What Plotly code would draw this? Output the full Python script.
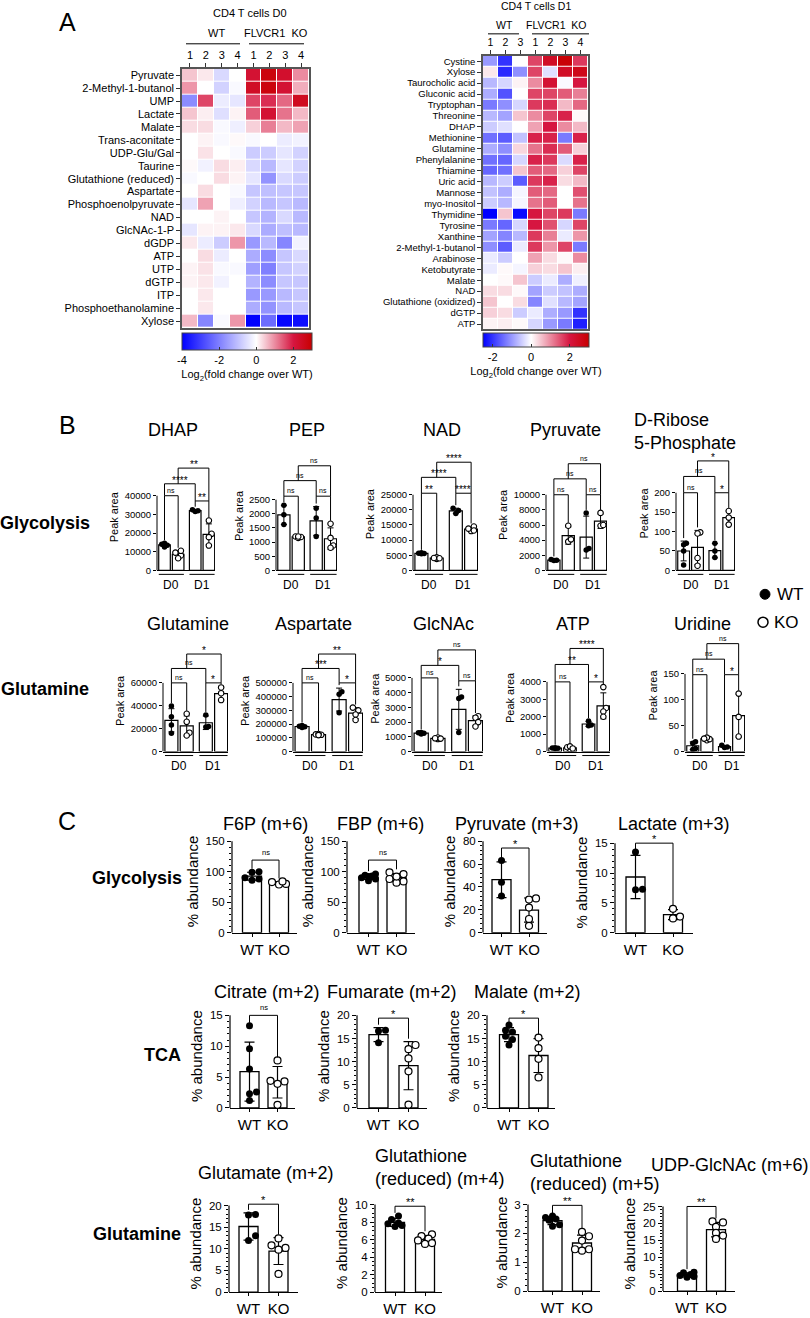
import statistics
import plotly.graph_objects as go

W, H = 810, 1318
FONT = "Liberation Sans, Arial, sans-serif"

# ---------------- Panel A: log2 fold change heatmaps ----------------
d0_rows = ["Pyruvate", "2-Methyl-1-butanol", "UMP", "Lactate", "Malate", "Trans-aconitate",
           "UDP-Glu/Gal", "Taurine", "Glutathione (reduced)", "Aspartate", "Phosphoenolpyruvate",
           "NAD", "GlcNAc-1-P", "dGDP", "ATP", "UTP", "dGTP", "ITP", "Phosphoethanolamine", "Xylose"]
d0_cols = ["1", "2", "3", "4", "1", "2", "3", "4"]
d0_vals = [
    [0.5, 0.2, -0.6, 0.0, 2.2, 2.8, 2.3, 1.0],
    [0.9, 0.0, -0.7, -0.1, 2.4, 2.8, 2.2, 0.7],
    [-1.8, 1.6, -0.3, -0.4, 1.6, 1.8, 1.3, 2.5],
    [0.5, 0.15, -0.5, 0.1, 1.4, 2.2, 1.2, 0.6],
    [0.3, 0.3, -0.1, -0.25, 0.4, 1.1, 0.6, 0.8],
    [0.0, 0.1, -0.1, 0.05, -0.1, 0.0, -0.3, -0.2],
    [0.0, 0.25, 0.0, -0.1, -0.8, -0.8, -0.4, -0.7],
    [0.05, -0.2, 0.3, 0.15, -0.6, -1.1, -0.4, -0.7],
    [-0.1, 0.0, 0.3, 0.1, -0.4, -1.7, -0.6, -0.8],
    [0.0, 0.3, 0.0, -0.1, -0.9, -1.0, -0.9, -0.9],
    [-0.4, 0.8, 0.0, -0.25, -0.7, -1.1, -0.9, -1.1],
    [0.0, 0.0, 0.1, 0.0, -0.9, -1.2, -0.6, -1.1],
    [-0.4, 0.1, 0.1, 0.2, -0.6, -1.3, -1.0, -1.1],
    [0.2, -0.3, -0.8, 0.9, -1.6, -1.1, -1.9, -0.2],
    [0.0, 0.3, -0.3, 0.0, -1.3, -1.8, -0.9, -0.6],
    [0.1, 0.25, -0.1, -0.1, -1.5, -2.0, -0.9, -0.7],
    [0.1, 0.2, -0.2, 0.0, -1.2, -1.8, -0.9, -0.9],
    [0.0, 0.2, 0.0, 0.0, -1.6, -1.6, -1.1, -0.9],
    [0.0, 0.2, 0.0, 0.0, -1.3, -1.7, -1.1, -0.9],
    [0.6, -1.9, -0.1, 0.9, -4.0, -2.3, -3.9, -3.8],
]

d1_rows = ["Cystine", "Xylose", "Taurocholic acid", "Gluconic acid", "Tryptophan", "Threonine", "DHAP",
           "Methionine", "Glutamine", "Phenylalanine", "Thiamine", "Uric acid", "Mannose", "myo-Inositol",
           "Thymidine", "Tyrosine", "Xanthine", "2-Methyl-1-butanol", "Arabinose", "Ketobutyrate",
           "Malate", "NAD", "Glutathione (oxidized)", "dGTP", "ATP"]
d1_cols = ["1", "2", "3", "1", "2", "3", "4"]
d1_vals = [
    [-1.0, -2.0, 0.0, 1.6, 2.4, 2.9, 1.7],
    [0.2, -2.1, -1.1, 1.6, -0.3, 2.4, 2.6],
    [-0.7, -0.4, 0.1, 1.0, 2.2, -0.05, 2.0],
    [-0.8, -1.7, 0.0, 1.6, 1.6, 1.4, 1.1],
    [-1.3, -1.1, -0.4, 1.7, 1.8, 0.6, 1.3],
    [-0.7, -0.9, 0.5, 1.0, 1.6, 1.9, 0.05],
    [-0.5, -0.3, 0.0, 0.8, 2.0, 1.0, 0.6],
    [-1.4, -1.6, -0.6, 1.9, 1.9, -1.3, 1.9],
    [-0.8, -1.1, 0.35, 1.2, 1.8, 1.4, 0.4],
    [-1.4, -1.5, -0.4, 1.9, 1.7, -0.35, 1.9],
    [-1.5, -1.4, 0.5, 1.4, 1.3, 0.4, 1.6],
    [-0.7, -0.5, -1.6, 1.7, 1.9, 0.3, 0.6],
    [-0.6, -0.8, -0.1, 1.4, 1.3, 0.0, 1.5],
    [-0.5, -0.7, -0.1, 1.2, 1.4, 0.0, 1.2],
    [-2.5, 0.5, -2.4, 2.0, 1.6, 1.7, -1.3],
    [-1.3, -1.5, -0.4, 2.0, 1.5, -0.4, 1.6],
    [-0.9, -1.2, -0.7, 1.7, 1.1, -0.2, 0.9],
    [-1.1, -1.6, -0.2, 1.7, 0.9, 1.6, -1.3],
    [-0.2, -0.5, 0.0, 0.8, 0.3, 0.05, 1.0],
    [-0.2, 0.05, -0.1, 0.4, 0.3, 0.5, 0.15],
    [0.0, 0.05, 0.5, -0.5, -0.2, -0.8, -0.15],
    [0.3, 0.3, 0.05, -0.9, -0.5, -0.6, -0.8],
    [0.5, 0.0, 0.3, -1.2, -0.3, -0.7, -0.9],
    [0.4, 0.3, -0.5, -0.2, -0.8, -1.0, -2.0],
    [0.1, 0.15, 0.05, -0.4, -1.0, -1.3, -2.2],
]

# ---------------- Panel B: peak areas (WT/KO at D0 and D1) ----------------
b_names = ["DHAP", "PEP", "NAD", "Pyruvate", "D-Ribose<br>5-Phosphate",
           "Glutamine", "Aspartate", "GlcNAc", "ATP", "Uridine"]
b_wt_d0 = [
    [14500, 14000, 12500, 13500],
    [2300, 1970, 1620],
    [5500, 5800, 5600, 5700],
    [1350, 1450, 1300],
    [70, 66, 50, 14],
    [39700, 30400, 23200, 16000],
    [180000, 185000, 175000, 190000],
    [1200, 1300, 1250, 1280],
    [180, 220, 200, 190],
    [19, 16, 6, 4],
]
b_ko_d0 = [
    [8000, 9500, 6500, 10500],
    [1200, 1150, 1180, 1200],
    [3800, 4300, 4000, 4100],
    [5900, 3800, 4100],
    [98, 95, 32, 12],
    [33000, 26000, 16500, 14000],
    [122000, 125000, 128000, 120000],
    [850, 950, 900, 880],
    [150, 250, 300, 180],
    [22, 24, 27, 25],
]
b_wt_d1 = [
    [31500, 32000, 32500],
    [2200, 1850, 1200],
    [20500, 19800, 18800],
    [7600, 2900, 2700],
    [70, 50, 33],
    [32000, 21500, 22000],
    [435000, 418000, 283000],
    [3700, 3600, 1300],
    [1750, 1520, 1480],
    [12, 9, 8],
]
b_ko_d1 = [
    [26700, 19600, 17800, 13300],
    [1650, 880, 800, 1150],
    [13000, 14500, 13800, 13200],
    [7600, 5900, 6000],
    [153, 136, 118],
    [56000, 51000, 45000],
    [320000, 300000, 270000, 230000],
    [2400, 2300, 2000, 1700],
    [3700, 2500, 2300, 2000],
    [112, 67, 29],
]
b_ymax = [40000, 2500, 25000, 10000, 200, 60000, 500000, 5000, 4000, 150]
b_dtick = [10000, 500, 5000, 2000, 50, 20000, 100000, 1000, 1000, 50]
# significance: D0 WT vs KO, D1 WT vs KO, WT D0 vs D1, KO D0 vs D1
b_sig = [
    ["ns", "**", "****", "**"],
    ["ns", "ns", "ns", "ns"],
    ["**", "****", "****", "****"],
    ["ns", "ns", "ns", "ns"],
    ["ns", "*", "ns", "*"],
    ["ns", "*", "ns", "*"],
    ["ns", "*", "***", "**"],
    ["ns", "ns", "*", "ns"],
    ["ns", "*", "**", "****"],
    ["ns", "*", "ns", "ns"],
]

# ---------------- Panel C: isotopologue % abundance ----------------
c_names = ["F6P (m+6)", "FBP (m+6)", "Pyruvate (m+3)", "Lactate (m+3)", "Citrate (m+2)",
           "Fumarate (m+2)", "Malate (m+2)", "Glutamate (m+2)", "Glutathione<br>(reduced) (m+4)",
           "Glutathione<br>(reduced) (m+5)", "UDP-GlcNAc (m+6)"]
c_wt = [
    [100, 99, 88, 86, 90],
    [96, 94, 88, 92, 85, 90, 93],
    [63, 44, 32],
    [13.5, 7.2, 7.3],
    [13.3, 9.6, 6.3, 2.6, 2.3, 1.2],
    [16.8, 16.6, 14.1],
    [17.9, 16.8, 16.4, 15.5, 14.8, 13.6],
    [17.8, 17.9, 13.0, 11.9],
    [8.7, 8.3, 7.9, 7.6, 7.5, 7.8],
    [2.6, 2.55, 2.5, 2.45, 2.3, 2.25],
    [5.6, 5.4, 4.9, 4.6, 4.3, 4.1],
]
c_ko = [
    [83, 80, 79, 84],
    [99, 96, 84, 88, 82, 92],
    [30, 29, 22, 12, 6],
    [4.0, 2.4, 2.7],
    [7.7, 4.3, 4.4, 3.9, 0.5],
    [13.6, 12.7, 10.7, 7.9, 0.7],
    [15.2, 12.9, 10.6, 6.6],
    [12.4, 10.8, 10.2, 9.8, 4.2],
    [6.6, 6.4, 6.1, 5.6, 5.5, 5.9],
    [2.05, 1.9, 1.75, 1.45, 1.4, 1.45],
    [20.6, 20.3, 19.0, 17.2, 16.4, 15.4],
]
c_ymax = [150, 150, 80, 15, 15, 20, 20, 20, 10, 3, 25]
c_dtick = [50, 50, 20, 5, 5, 5, 5, 5, 2, 1, 5]
c_sig = ["ns", "ns", "*", "*", "ns", "*", "*", "*", "**", "**", "**"]


def xd(px):
    return px / W


def yd(py):
    return 1 - py / H


fig = go.Figure()
axes_layout = {}
shapes = []
annos = []
counter = [0]


def new_axes():
    counter[0] += 1
    k = counter[0]
    return k, ("x" if k == 1 else f"x{k}"), ("y" if k == 1 else f"y{k}")


def set_axes(k, xa, ya):
    axes_layout["xaxis" if k == 1 else f"xaxis{k}"] = xa
    axes_layout["yaxis" if k == 1 else f"yaxis{k}"] = ya


def text(x, y, s, size, xref="paper", yref="paper", xanchor="center", yanchor="middle", **kw):
    annos.append(dict(x=x, y=y, xref=xref, yref=yref, text=s, showarrow=False, xanchor=xanchor,
                      yanchor=yanchor, font=dict(size=size, color="black", family=FONT), **kw))


def hline_px(x0, x1, y, width=1):
    shapes.append(dict(type="line", xref="paper", yref="paper", x0=xd(x0), x1=xd(x1),
                       y0=yd(y), y1=yd(y), line=dict(color="black", width=width)))


def mean_sd(g):
    m = sum(g) / len(g)
    return m, (statistics.stdev(g) if len(g) > 1 else 0.0)


def swarm(vals, ppu_y, ppu_x, diam, limit):
    # spread points sideways when they would overlap (in pixel space)
    order = sorted(range(len(vals)), key=lambda i: vals[i])
    step = diam * 0.5
    cands = [0.0]
    j = 1
    while j * step <= limit:
        cands += [j * step, -j * step]
        j += 1
    placed, offs = [], [0.0] * len(vals)
    for i in order:
        y = vals[i] * ppu_y
        best, bestd = 0.0, -1.0
        for c in cands:
            d = min((((c - px) ** 2 + (y - py) ** 2) ** 0.5 for px, py in placed), default=1e9)
            if d >= diam * 0.85:
                best = c
                break
            if d > bestd:
                best, bestd = c, d
        placed.append((best, y))
        offs[i] = best / ppu_x
    return offs


def cscale(zmin, zmax):
    f = lambda v: (v - zmin) / (zmax - zmin)
    return [[0, "rgb(0,0,255)"], [f(0), "rgb(255,255,255)"], [f(2), "rgb(214,22,64)"],
            [1, "rgb(200,0,0)"]]


# ---------------- heatmaps ----------------
def heatmap(rows, cols, vals, zmin, zmax, box, cb, rowfont, colfont, cbticks):
    k, xs, ys = new_axes()
    x0, x1, y0, y1 = box
    fig.add_trace(go.Heatmap(
        z=vals, x=list(range(len(cols))), y=list(range(len(rows))), zmin=zmin, zmax=zmax,
        colorscale=cscale(zmin, zmax), xgap=1, ygap=1, xaxis=xs, yaxis=ys,
        colorbar=dict(orientation="h", x=xd(cb[0]), xanchor="center", y=yd(cb[1]), yanchor="top",
                      len=cb[2], lenmode="pixels", thickness=cb[3], thicknessmode="pixels",
                      xpad=0, ypad=0, outlinewidth=1, outlinecolor="#444",
                      tickvals=cbticks, ticktext=[str(t) for t in cbticks],
                      ticks="inside", ticklen=3, tickcolor="#333",
                      tickfont=dict(size=11, family=FONT),
                      title=dict(text="Log<sub>2</sub>(fold change over WT)", side="bottom",
                                 font=dict(size=11, family=FONT)))))
    set_axes(k,
             dict(domain=[xd(x0), xd(x1)], anchor=ys, side="top", range=[-0.5, len(cols) - 0.5],
                  tickmode="array", tickvals=list(range(len(cols))), ticktext=cols, ticks="outside",
                  ticklen=4, tickcolor="#333", showline=True, mirror=True, linecolor="#555",
                  linewidth=1.5, showgrid=False, zeroline=False, tickfont=dict(size=colfont)),
             dict(domain=[yd(y1), yd(y0)], anchor=xs, range=[len(rows) - 0.5, -0.5],
                  tickmode="array", tickvals=list(range(len(rows))), ticktext=rows, ticks="outside",
                  ticklen=4, tickcolor="#333", showline=True, mirror=True, linecolor="#555",
                  linewidth=1.5, showgrid=False, zeroline=False, tickfont=dict(size=rowfont)))


heatmap(d0_rows, d0_cols, d0_vals, -4, 3, (182, 309, 69, 329), (247, 335, 130, 17), 11, 11,
        [-4, -2, 0, 2])
heatmap(d1_rows, d1_cols, d1_vals, -2.5, 3, (483, 588, 56, 331), (536, 335, 106, 14), 9.5, 10.5,
        [-2, 0, 2])

text(xd(250), yd(13), "CD4 T cells D0", 11)
text(xd(216), yd(33), "WT", 11)
text(xd(276), yd(33), "FLVCR1  KO", 11)
hline_px(186, 240, 44)
hline_px(249, 304, 44)
text(xd(536), yd(6), "CD4 T cells D1", 10.5)
text(xd(504), yd(25), "WT", 10.5)
text(xd(556), yd(25), "FLVCR1  KO", 10.5)
hline_px(488, 519, 34)
hline_px(532, 589, 34)

# ---------------- Panel B ----------------
POS_B = [0, 1, 2.25, 3.25]
PAIRS_B = [(0, 1), (2, 3), (0, 2), (1, 3)]
# axis px, end px, zero px, ymax px, bracket levels (fraction of ymax)
b_layout = [
    (157, 215, 573, 498, [1.0, 0.93, 1.16, 1.37]),
    (276, 337, 573, 502, [1.05, 1.05, 1.27, 1.48]),
    (413, 478, 573, 497, [1.02, 1.02, 1.23, 1.43]),
    (546, 607, 573, 497, [1.0, 1.0, 1.21, 1.41]),
    (676, 735, 573, 495, [1.0, 1.0, 1.21, 1.41]),
    (163, 228, 755, 686, [1.0, 1.0, 1.21, 1.42]),
    (293, 363, 755, 686, [1.0, 1.0, 1.21, 1.42]),
    (412, 483, 755, 681, [1.0, 0.96, 1.17, 1.38]),
    (547, 610, 755, 685, [1.0, 1.0, 1.25, 1.48]),
    (685, 745, 755, 677, [0.99, 0.99, 1.19, 1.39]),
]
b_title_pos = [(173, 432), (307, 432), (442, 432), (565, 432), (632, 433),
               (188, 627), (313, 627), (443, 627), (573, 627), (702, 627)]


def bplot(i):
    axis_px, end_px, zero_px, ymax_px, levels = b_layout[i]
    ymax, dtick = b_ymax[i], b_dtick[i]
    k, xs, ys = new_axes()
    groups = [b_wt_d0[i], b_ko_d0[i], b_wt_d1[i], b_ko_d1[i]]
    ms = [mean_sd(g) for g in groups]
    xlo, xhi = -0.55, 3.7
    ppu_x = (end_px - axis_px) / (xhi - xlo)
    ppu_y = (zero_px - ymax_px) / ymax
    top = max(levels) * ymax * 1.04
    top_px = zero_px - top * ppu_y

    fig.add_trace(go.Bar(x=POS_B, y=[m for m, s in ms], width=0.85, xaxis=xs, yaxis=ys,
                         marker=dict(color="white", line=dict(color="black", width=1.2))))
    fig.add_trace(go.Scatter(x=POS_B, y=[m for m, s in ms], mode="markers", xaxis=xs, yaxis=ys,
                             marker=dict(size=1, color="rgba(0,0,0,0)"),
                             error_y=dict(type="data", array=[s for m, s in ms], visible=True,
                                          thickness=1, width=3, color="black")))
    for g, vals in enumerate(groups):
        offs = swarm(vals, ppu_y, ppu_x, 5.5, 0.28 * ppu_x)
        filled = g in (0, 2)
        fig.add_trace(go.Scatter(
            x=[POS_B[g] + o for o in offs], y=vals, mode="markers", xaxis=xs, yaxis=ys,
            marker=dict(size=5.5, color="black" if filled else "white",
                        line=dict(color="black", width=0 if filled else 1.1))))

    set_axes(k,
             dict(domain=[xd(axis_px), xd(end_px)], anchor=ys, range=[xlo, xhi], showline=True,
                  linecolor="black", linewidth=1, showticklabels=False, ticks="", showgrid=False,
                  zeroline=False),
             dict(domain=[yd(zero_px), yd(top_px)], anchor=xs, range=[0, top], tickmode="array",
                  tickvals=[j * dtick for j in range(int(round(ymax / dtick)) + 1)],
                  tickformat="d", ticks="outside", ticklen=3, tickwidth=1, tickcolor="black",
                  showline=False, showgrid=False, zeroline=False, tickfont=dict(size=9.5),
                  title=dict(text="Peak area", font=dict(size=11), standoff=3)))
    shapes.append(dict(type="line", xref=f"{xs} domain", yref=ys, x0=0, x1=0, y0=0, y1=ymax,
                       line=dict(color="black", width=1)))

    # D0 / D1 group lines and labels
    for a, b, lab in [(0, 1, "D0"), (2, 3, "D1")]:
        shapes.append(dict(type="line", xref=xs, yref="paper", x0=POS_B[a] - 0.42,
                           x1=POS_B[b] + 0.42, y0=yd(zero_px + 4), y1=yd(zero_px + 4),
                           line=dict(color="black", width=1)))
        text((POS_B[a] + POS_B[b]) / 2, yd(zero_px + 15), lab, 12, xref=xs)

    # brackets
    gap = 3 / ppu_y
    tops = [max(max(vals), m + s) + gap for vals, (m, s) in zip(groups, ms)]
    for j, (a, b) in enumerate(PAIRS_B):
        lev = levels[j] * ymax
        legs = []
        for g in (a, b):
            cands = [tops[g]]
            for jj, (aa, bb) in enumerate(PAIRS_B):
                if jj != j and levels[jj] < levels[j] and aa <= g <= bb:
                    cands.append(levels[jj] * ymax)
            legs.append(min(max(cands), lev))
        xa, xb = POS_B[a], POS_B[b]
        shapes.append(dict(type="path", xref=xs, yref=ys,
                           path=f"M {xa},{legs[0]} L {xa},{lev} L {xb},{lev} L {xb},{legs[1]}",
                           line=dict(color="black", width=1)))
        sig = b_sig[i][j]
        if sig == "ns":
            text((xa + xb) / 2, lev, sig, 7, xref=xs, yref=ys, yanchor="bottom", yshift=0)
        else:
            text((xa + xb) / 2, lev, sig, 10, xref=xs, yref=ys, yanchor="bottom", yshift=-4)

    tx, ty = b_title_pos[i]
    if "<br>" in b_names[i]:
        text(xd(tx), yd(ty), b_names[i], 18, xanchor="left", align="left")
    else:
        text(xd(tx), yd(ty), b_names[i], 18)


for i in range(len(b_names)):
    bplot(i)

text(xd(45), yd(525), "<b>Glycolysis</b>", 18)
text(xd(45), yd(692), "<b>Glutamine</b>", 18)

# legend
shapes.append(dict(type="circle", xref="paper", yref="paper", x0=xd(760), x1=xd(770),
                   y0=yd(602), y1=yd(592), fillcolor="black", line=dict(color="black", width=1)))
shapes.append(dict(type="circle", xref="paper", yref="paper", x0=xd(758), x1=xd(768),
                   y0=yd(630), y1=yd(620), fillcolor="white", line=dict(color="black", width=1.5)))
text(xd(775), yd(597), "WT", 17, xanchor="left")
text(xd(772), yd(625), "KO", 17, xanchor="left")

# ---------------- Panel C ----------------
# axis px, end px, WT bar centre px, KO bar centre px, zero px, ymax px, bracket level
c_layout = [
    (232, 297, 252, 279, 937, 845, 119),
    (347, 415, 368.5, 396.5, 937, 845, 119),
    (483, 547, 501.5, 529, 937, 845, 74),
    (615, 693, 635.5, 673, 937, 847, 15),
    (230, 295, 249.5, 277.5, 1113, 1020, 15),
    (357, 427, 378.5, 408.5, 1113, 1020, 19.4),
    (487, 555, 509, 538.5, 1113, 1020, 19.4),
    (229, 298, 248.5, 278.5, 1298, 1211, 20.3),
    (375, 442, 395, 425, 1298, 1210, 9.8),
    (528, 600, 552.5, 582, 1297, 1210, 2.97),
    (663, 735, 687, 716, 1297, 1212, 25),
]
c_title_pos = [(265, 828), (380, 828), (517, 828), (674, 828), (267, 997), (392, 997),
               (527, 997), (266, 1178), (373, 1173), (528, 1178), (730, 1170)]


def cplot(i):
    axis_px, end_px, c0, c1, zero_px, ymax_px, level = c_layout[i]
    ymax, dtick = c_ymax[i], c_dtick[i]
    k, xs, ys = new_axes()
    unit = c1 - c0
    xlo, xhi = (axis_px - c0) / unit, (end_px - c0) / unit
    ppu_y = (zero_px - ymax_px) / ymax
    top = ymax * 1.12
    top_px = zero_px - top * ppu_y
    groups = [c_wt[i], c_ko[i]]
    ms = [mean_sd(g) for g in groups]
    bw = 19 / unit

    fig.add_trace(go.Bar(x=[0, 1], y=[m for m, s in ms], width=bw, xaxis=xs, yaxis=ys,
                         marker=dict(color="white", line=dict(color="black", width=1.3))))
    fig.add_trace(go.Scatter(x=[0, 1], y=[m for m, s in ms], mode="markers", xaxis=xs, yaxis=ys,
                             marker=dict(size=1, color="rgba(0,0,0,0)"),
                             error_y=dict(type="data", array=[s for m, s in ms], visible=True,
                                          thickness=1.2, width=5, color="black")))
    for g, vals in enumerate(groups):
        offs = swarm(vals, ppu_y, unit, 7, 8)
        filled = g == 0
        fig.add_trace(go.Scatter(
            x=[g + o for o in offs], y=vals, mode="markers", xaxis=xs, yaxis=ys,
            marker=dict(size=7, color="black" if filled else "white",
                        line=dict(color="black", width=0 if filled else 1.2))))

    minor_step = dtick / 5 if dtick != 2 else 0.5
    n_minor = int(round(ymax / minor_step))
    minor_vals = [j * minor_step for j in range(n_minor + 1)
                  if abs((j * minor_step / dtick) - round(j * minor_step / dtick)) > 1e-6]
    set_axes(k,
             dict(domain=[xd(axis_px), xd(end_px)], anchor=ys, range=[xlo, xhi], showline=True,
                  linecolor="black", linewidth=1.2, tickmode="array", tickvals=[0, 1],
                  ticktext=["WT", "KO"], ticks="outside", ticklen=3, tickcolor="black",
                  tickfont=dict(size=15), showgrid=False, zeroline=False),
             dict(domain=[yd(zero_px), yd(top_px)], anchor=xs, range=[0, top], tickmode="array",
                  tickvals=[j * dtick for j in range(int(round(ymax / dtick)) + 1)],
                  ticks="outside", ticklen=4, tickwidth=1, tickcolor="black",
                  minor=dict(tickmode="array", tickvals=minor_vals, ticks="outside", ticklen=2,
                             tickcolor="black"),
                  showline=False, showgrid=False, zeroline=False, tickfont=dict(size=11.5),
                  title=dict(text="% abundance", font=dict(size=15), standoff=3)))
    shapes.append(dict(type="line", xref=f"{xs} domain", yref=ys, x0=0, x1=0, y0=0, y1=ymax,
                       line=dict(color="black", width=1.2)))

    gap = 3 / ppu_y
    legs = [min(max(max(vals), m + s) + gap, level) for vals, (m, s) in zip(groups, ms)]
    shapes.append(dict(type="path", xref=xs, yref=ys,
                       path=f"M 0,{legs[0]} L 0,{level} L 1,{level} L 1,{legs[1]}",
                       line=dict(color="black", width=1)))
    sig = c_sig[i]
    if sig == "ns":
        text(0.5, level, sig, 7.5, xref=xs, yref=ys, yanchor="bottom", yshift=1)
    else:
        text(0.5, level, sig, 11, xref=xs, yref=ys, yanchor="bottom", yshift=-4)

    tx, ty = c_title_pos[i]
    if "<br>" in c_names[i]:
        text(xd(tx), yd(ty), c_names[i], 18, xanchor="left", align="left")
    else:
        text(xd(tx), yd(ty), c_names[i], 18)


for i in range(len(c_names)):
    cplot(i)

text(xd(137), yd(882), "<b>Glycolysis</b>", 18)
text(xd(162), yd(1060), "<b>TCA</b>", 18)
text(xd(137), yd(1240), "<b>Glutamine</b>", 18)

# panel letters
text(xd(67), yd(22), "A", 25)
text(xd(67), yd(427), "B", 25)
text(xd(67), yd(825), "C", 25)

fig.update_layout(
    width=W, height=H, autosize=False, margin=dict(l=0, r=0, t=0, b=0),
    paper_bgcolor="white", plot_bgcolor="white", showlegend=False,
    font=dict(family=FONT, color="black"),
    shapes=shapes, annotations=annos, **axes_layout,
)

fig.write_html("out.html", config={"displayModeBar": False},
               post_script="document.body.style.margin='0';document.body.style.overflow='hidden';")
